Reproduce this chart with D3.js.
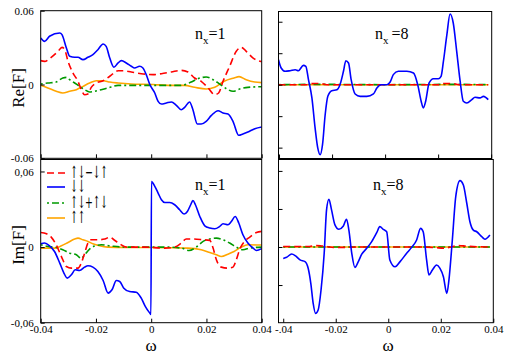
<!DOCTYPE html>
<html><head><meta charset="utf-8">
<script src="https://cdn.jsdelivr.net/npm/d3@7"></script>
<style>
body{margin:0;background:#fff;}
svg{display:block;}
text{font-family:"Liberation Serif","Times New Roman",serif;fill:#000;}
</style></head>
<body>
<svg id="c" width="508" height="355"></svg>
<script>
// ---------- data ----------
const xTicks = [-0.04, -0.02, 0, 0.02, 0.04];
const xTickLabelsBL = ["-0.04", "-0.02", "0", "0.02", "0.04"];
const xTickLabelsBR = ["-.04", "-0.02", "0", "0.02", "0.04"];
const leftYTicks = [-0.06, 0, 0.06];
const reTickLabels = ["-0.06", "0", "0.06"];
const imTickLabels = ["-0,06", "0", "0,06"];
const rightYTicks = [-0.04, -0.02, 0, 0.02, 0.04];

const legendLabels = ["↑↓−↓↑", "↓↓", "↑↓+↑↓", "↑↑"];
const panelLabels = ["n", "x", "=1", "=8"];

// Re[F], n_x = 1
const re1Red = [[-0.0400,0.0194],[-0.0386,0.0188],[-0.0362,0.0221],[-0.0337,0.0270],[-0.0323,0.0302],[-0.0313,0.0283],[-0.0301,0.0188],[-0.0283,0.0093],[-0.0265,0.0026],[-0.0253,-0.0042],[-0.0241,-0.0083],[-0.0229,-0.0077],[-0.0217,-0.0023],[-0.0199,0.0012],[-0.0174,0.0031],[-0.0150,0.0067],[-0.0120,0.0112],[-0.0102,0.0112],[-0.0072,0.0102],[-0.0036,0.0088],[0.0007,0.0080],[0.0037,0.0088],[0.0073,0.0102],[0.0109,0.0115],[0.0133,0.0102],[0.0157,0.0053],[0.0181,0.0026],[0.0206,-0.0028],[0.0230,-0.0083],[0.0244,-0.0069],[0.0260,0.0026],[0.0284,0.0148],[0.0308,0.0270],[0.0326,0.0302],[0.0344,0.0270],[0.0369,0.0215],[0.0400,0.0185]];
const re1Blue = [[-0.0400,0.0378],[-0.0386,0.0351],[-0.0368,0.0392],[-0.0331,0.0419],[-0.0323,0.0405],[-0.0307,0.0297],[-0.0295,0.0229],[-0.0277,0.0221],[-0.0265,0.0221],[-0.0247,0.0202],[-0.0229,0.0221],[-0.0211,0.0243],[-0.0193,0.0283],[-0.0174,0.0329],[-0.0163,0.0310],[-0.0150,0.0215],[-0.0135,0.0140],[-0.0120,0.0175],[-0.0108,0.0194],[-0.0090,0.0175],[-0.0072,0.0148],[-0.0060,0.0134],[-0.0042,0.0148],[-0.0030,0.0134],[-0.0018,0.0080],[-0.0005,0.0000],[0.0013,-0.0069],[0.0025,-0.0137],[0.0037,-0.0159],[0.0055,-0.0150],[0.0073,-0.0142],[0.0091,-0.0169],[0.0109,-0.0205],[0.0121,-0.0186],[0.0139,-0.0142],[0.0151,-0.0205],[0.0167,-0.0321],[0.0181,-0.0321],[0.0199,-0.0299],[0.0218,-0.0251],[0.0242,-0.0213],[0.0260,-0.0232],[0.0278,-0.0240],[0.0296,-0.0299],[0.0317,-0.0413],[0.0332,-0.0402],[0.0350,-0.0386],[0.0375,-0.0359],[0.0400,-0.0345]];
const re1Green = [[-0.0400,0.0004],[-0.0374,0.0012],[-0.0344,0.0020],[-0.0320,0.0053],[-0.0307,0.0058],[-0.0295,0.0039],[-0.0277,0.0012],[-0.0259,-0.0015],[-0.0241,-0.0042],[-0.0223,-0.0061],[-0.0205,-0.0055],[-0.0181,-0.0042],[-0.0157,-0.0028],[-0.0120,-0.0007],[-0.0072,-0.0007],[-0.0024,-0.0007],[0.0061,-0.0007],[0.0109,-0.0007],[0.0145,0.0020],[0.0169,0.0047],[0.0199,0.0061],[0.0224,0.0039],[0.0248,0.0004],[0.0272,-0.0034],[0.0296,-0.0055],[0.0320,-0.0037],[0.0350,-0.0023],[0.0400,-0.0018]];
const re1Orange = [[-0.0400,-0.0007],[-0.0374,-0.0028],[-0.0344,-0.0055],[-0.0320,-0.0069],[-0.0295,-0.0055],[-0.0271,-0.0042],[-0.0247,-0.0015],[-0.0223,0.0012],[-0.0199,0.0031],[-0.0174,0.0031],[-0.0150,0.0020],[-0.0120,0.0012],[-0.0072,0.0004],[0.0007,0.0000],[0.0061,-0.0007],[0.0121,-0.0007],[0.0157,-0.0023],[0.0199,-0.0037],[0.0230,-0.0023],[0.0264,0.0026],[0.0300,0.0053],[0.0318,0.0064],[0.0344,0.0039],[0.0375,0.0020],[0.0400,0.0015]];

// Im[F], n_x = 1
const im1Red = [[-0.0400,0.0116],[-0.0379,0.0106],[-0.0362,0.0079],[-0.0344,0.0018],[-0.0325,-0.0075],[-0.0307,-0.0154],[-0.0289,-0.0167],[-0.0265,-0.0167],[-0.0253,-0.0127],[-0.0241,-0.0048],[-0.0229,0.0032],[-0.0217,0.0058],[-0.0193,0.0058],[-0.0168,0.0064],[-0.0150,0.0079],[-0.0135,0.0058],[-0.0114,0.0026],[-0.0090,0.0000],[-0.0060,0.0000],[-0.0024,0.0000],[0.0049,-0.0008],[0.0085,0.0000],[0.0109,0.0032],[0.0127,0.0064],[0.0151,0.0064],[0.0188,0.0058],[0.0212,0.0053],[0.0224,-0.0008],[0.0236,-0.0101],[0.0254,-0.0159],[0.0278,-0.0167],[0.0296,-0.0159],[0.0308,-0.0101],[0.0320,-0.0021],[0.0338,0.0045],[0.0357,0.0079],[0.0381,0.0116],[0.0400,0.0125]];
const im1Blue = [[-0.0400,0.0026],[-0.0386,0.0032],[-0.0368,0.0010],[-0.0350,-0.0035],[-0.0331,-0.0127],[-0.0316,-0.0206],[-0.0304,-0.0246],[-0.0289,-0.0220],[-0.0275,-0.0180],[-0.0259,-0.0186],[-0.0241,-0.0159],[-0.0229,-0.0148],[-0.0211,-0.0159],[-0.0193,-0.0194],[-0.0174,-0.0265],[-0.0156,-0.0365],[-0.0142,-0.0339],[-0.0126,-0.0265],[-0.0114,-0.0273],[-0.0099,-0.0326],[-0.0078,-0.0353],[-0.0054,-0.0358],[-0.0036,-0.0405],[-0.0021,-0.0472],[-0.0005,-0.0524],[-0.0001,-0.0535],[0.0001,0.0521],[0.0013,0.0481],[0.0025,0.0429],[0.0037,0.0376],[0.0049,0.0354],[0.0067,0.0354],[0.0085,0.0336],[0.0103,0.0296],[0.0119,0.0262],[0.0131,0.0283],[0.0143,0.0336],[0.0151,0.0370],[0.0160,0.0336],[0.0176,0.0243],[0.0194,0.0169],[0.0212,0.0151],[0.0230,0.0145],[0.0248,0.0164],[0.0260,0.0185],[0.0278,0.0177],[0.0290,0.0203],[0.0304,0.0243],[0.0317,0.0191],[0.0332,0.0098],[0.0350,0.0032],[0.0369,-0.0008],[0.0381,-0.0027],[0.0400,-0.0012]];
const im1Green = [[-0.0400,0.0018],[-0.0374,0.0005],[-0.0344,-0.0003],[-0.0320,-0.0021],[-0.0295,-0.0048],[-0.0271,-0.0061],[-0.0253,-0.0090],[-0.0241,-0.0061],[-0.0223,-0.0016],[-0.0205,0.0008],[-0.0181,0.0018],[-0.0144,0.0008],[-0.0096,0.0000],[-0.0048,0.0000],[0.0061,0.0000],[0.0109,-0.0008],[0.0137,-0.0027],[0.0163,0.0000],[0.0188,0.0045],[0.0212,0.0064],[0.0236,0.0071],[0.0260,0.0058],[0.0284,0.0032],[0.0308,0.0000],[0.0332,-0.0021],[0.0357,-0.0008],[0.0400,0.0000]];
const im1Orange = [[-0.0400,-0.0008],[-0.0374,-0.0008],[-0.0350,-0.0008],[-0.0325,0.0010],[-0.0301,0.0037],[-0.0277,0.0064],[-0.0265,0.0071],[-0.0247,0.0058],[-0.0229,0.0045],[-0.0211,0.0026],[-0.0187,0.0010],[-0.0157,0.0000],[-0.0048,-0.0003],[0.0061,-0.0005],[0.0133,-0.0008],[0.0181,-0.0021],[0.0212,-0.0043],[0.0236,-0.0061],[0.0254,-0.0075],[0.0278,-0.0056],[0.0300,-0.0035],[0.0326,0.0000],[0.0350,0.0018],[0.0400,0.0016]];

// Re[F], n_x = 8
const re8Blue = [[-0.0402,0.0159],[-0.0392,0.0106],[-0.0377,0.0085],[-0.0358,0.0089],[-0.0339,0.0095],[-0.0327,0.0089],[-0.0308,0.0123],[-0.0299,0.0117],[-0.0289,0.0032],[-0.0276,-0.0084],[-0.0264,-0.0275],[-0.0254,-0.0402],[-0.0245,-0.0445],[-0.0236,-0.0381],[-0.0226,-0.0191],[-0.0216,-0.0074],[-0.0201,-0.0038],[-0.0182,-0.0032],[-0.0170,0.0000],[-0.0157,0.0085],[-0.0148,0.0152],[-0.0138,0.0138],[-0.0128,0.0032],[-0.0113,-0.0059],[-0.0094,-0.0074],[-0.0069,-0.0074],[-0.0044,-0.0059],[-0.0031,-0.0021],[-0.0015,0.0000],[0.0006,0.0000],[0.0019,0.0017],[0.0031,0.0064],[0.0050,0.0085],[0.0082,0.0085],[0.0107,0.0074],[0.0123,0.0000],[0.0136,-0.0105],[0.0144,-0.0148],[0.0153,-0.0105],[0.0166,0.0011],[0.0182,0.0038],[0.0201,0.0038],[0.0211,0.0053],[0.0220,0.0149],[0.0233,0.0318],[0.0245,0.0449],[0.0257,0.0392],[0.0270,0.0212],[0.0283,0.0022],[0.0295,-0.0105],[0.0308,-0.0116],[0.0327,-0.0095],[0.0339,-0.0080],[0.0358,-0.0084],[0.0371,-0.0074],[0.0389,-0.0095]];
const re8Red = [[-0.0402,0.0000],[-0.0300,0.0000],[-0.0270,0.0008],[-0.0245,0.0008],[-0.0220,0.0000],[0.0200,0.0000],[0.0225,0.0008],[0.0250,0.0008],[0.0280,0.0000],[0.0389,0.0000]];
const re8Green = [[-0.0402,0.0000],[-0.0250,0.0002],[0.0000,0.0000],[0.0250,0.0002],[0.0389,0.0000]];
const re8Orange = [[-0.0402,0.0000],[0.0389,0.0000]];

// Im[F], n_x = 8
const im8Blue = [[-0.0400,-0.0060],[-0.0387,-0.0054],[-0.0368,-0.0037],[-0.0353,-0.0047],[-0.0336,-0.0068],[-0.0317,-0.0077],[-0.0305,-0.0112],[-0.0295,-0.0191],[-0.0286,-0.0296],[-0.0277,-0.0349],[-0.0267,-0.0331],[-0.0256,-0.0226],[-0.0244,-0.0033],[-0.0235,0.0195],[-0.0226,0.0251],[-0.0216,0.0195],[-0.0203,0.0116],[-0.0188,0.0093],[-0.0171,0.0110],[-0.0159,0.0146],[-0.0150,0.0089],[-0.0139,-0.0033],[-0.0127,-0.0107],[-0.0114,-0.0077],[-0.0101,-0.0038],[-0.0082,-0.0007],[-0.0063,0.0028],[-0.0044,0.0075],[-0.0032,0.0107],[-0.0019,0.0093],[-0.0006,0.0080],[0.0006,-0.0068],[0.0026,-0.0104],[0.0045,-0.0077],[0.0070,-0.0033],[0.0089,-0.0002],[0.0108,0.0037],[0.0123,0.0098],[0.0133,0.0080],[0.0146,-0.0068],[0.0155,-0.0147],[0.0168,-0.0121],[0.0184,-0.0095],[0.0197,-0.0112],[0.0210,-0.0156],[0.0223,-0.0244],[0.0231,-0.0174],[0.0244,0.0037],[0.0257,0.0265],[0.0273,0.0349],[0.0286,0.0326],[0.0299,0.0230],[0.0311,0.0133],[0.0324,0.0089],[0.0337,0.0080],[0.0356,0.0054],[0.0368,0.0041],[0.0387,0.0063]];
const im8Red = [[-0.0400,0.0003],[-0.0300,0.0003],[-0.0275,0.0008],[-0.0250,0.0005],[-0.0200,-0.0003],[-0.0100,0.0000],[0.0100,0.0000],[0.0180,-0.0003],[0.0210,-0.0006],[0.0240,0.0000],[0.0265,0.0008],[0.0300,0.0004],[0.0387,0.0000]];
const im8Green = [[-0.0400,0.0000],[0.0387,0.0000]];
const im8Orange = [[-0.0400,0.0000],[0.0387,0.0000]];

// ---------- drawing ----------
const svg = d3.select("#c");
const colors = {red:"#ff0000", blue:"#0000ff", green:"#009a00", orange:"#ffa500"};
const dashes = {red:"7,4", blue:null, green:"2,3,7,3", orange:null};
const serif = '"Liberation Serif","Times New Roman",serif';

const panels = [
  {id:"tl", x:[40.7,261.7], y:[10.7,158.3], xd:[-0.04,0.04], yd:[-0.06,0.06],
   yTicks:leftYTicks, yLabels:reTickLabels, xLabels:null, data:{orange:re1Orange, green:re1Green, red:re1Red, blue:re1Blue}},
  {id:"bl", x:[40.7,261.7], y:[159.5,322.7], xd:[-0.04,0.04], yd:[-0.06,0.0695],
   yTicks:leftYTicks, yLabels:imTickLabels, xLabels:xTickLabelsBL, data:{orange:im1Orange, green:im1Green, red:im1Red, blue:im1Blue}},
  {id:"tr", x:[278.5,491.7], y:[11.5,158.5], xd:[-0.0402,0.0402], yd:[-0.0469,0.0465],
   yTicks:rightYTicks, yLabels:null, xLabels:null, data:{orange:re8Orange, green:re8Green, red:re8Red, blue:re8Blue}},
  {id:"br", x:[278.5,493.3], y:[159.5,322.7], xd:[-0.0418,0.0400], yd:[-0.0398,0.0460],
   yTicks:rightYTicks, yLabels:null, xLabels:xTickLabelsBR, data:{orange:im8Orange, green:im8Green, red:im8Red, blue:im8Blue}}
];

const defs = svg.append("defs");
panels.forEach(p => {
  const xs = d3.scaleLinear().domain(p.xd).range(p.x);
  const ys = d3.scaleLinear().domain(p.yd).range([p.y[1], p.y[0]]);
  defs.append("clipPath").attr("id","clip-"+p.id).append("rect")
    .attr("x",p.x[0]).attr("y",p.y[0]).attr("width",p.x[1]-p.x[0]).attr("height",p.y[1]-p.y[0]);
  const g = svg.append("g");
  const line = d3.line().x(d=>xs(d[0])).y(d=>ys(d[1])).curve(d3.curveMonotoneX);
  const cg = g.append("g").attr("clip-path","url(#clip-"+p.id+")");
  ["orange","green","red","blue"].forEach(k => {
    cg.append("path").datum(p.data[k]).attr("d",line)
      .attr("fill","none").attr("stroke",colors[k]).attr("stroke-width",1.6)
      .attr("stroke-dasharray",dashes[k]);
  });
  // axes
  const xa = d3.axisBottom(xs).tickValues(xTicks.filter(v=>v>=p.xd[0]-1e-9 && v<=p.xd[1]+1e-9)).tickSize(-4).tickPadding(4)
    .tickFormat((d)=> p.xLabels ? p.xLabels[xTicks.indexOf(d)] : "");
  const xg = g.append("g").attr("transform",`translate(0,${p.y[1]})`).call(xa);
  const ya = d3.axisLeft(ys).tickValues(p.yTicks.filter(v=>v>=p.yd[0]-1e-9 && v<=p.yd[1]+1e-9)).tickSize(-4).tickPadding(7)
    .tickFormat((d)=> p.yLabels ? p.yLabels[p.yTicks.indexOf(d)] : "");
  const yg = g.append("g").attr("transform",`translate(${p.x[0]},0)`).call(ya);
  [xg,yg].forEach(a=>{
    a.attr("font-family",serif).attr("font-size",11);
    a.select(".domain").remove();
    a.selectAll("line").attr("stroke","#000").attr("stroke-width",1);
    a.selectAll("text").style("font-family",serif).style("font-size","11px").attr("fill","#000");
  });
  xg.selectAll("text").attr("dy","0.6em");
  if (!p.xLabels) xg.selectAll("text").remove();
  if (!p.yLabels) yg.selectAll("text").remove();
  g.append("rect").attr("x",p.x[0]).attr("y",p.y[0]).attr("width",p.x[1]-p.x[0]).attr("height",p.y[1]-p.y[0])
    .attr("fill","none").attr("stroke","#000").attr("stroke-width",1);
});

// axis titles
svg.append("text").attr("transform","translate(24,88) rotate(-90)").attr("text-anchor","middle")
  .style("font-size","17px").text("Re[F]");
svg.append("text").attr("transform","translate(24,245) rotate(-90)").attr("text-anchor","middle")
  .style("font-size","17px").text("Im[F]");
svg.append("text").attr("x",151).attr("y",351).attr("text-anchor","middle").style("font-size","17px").text("ω");
svg.append("text").attr("x",388).attr("y",351).attr("text-anchor","middle").style("font-size","17px").text("ω");

// panel labels
function nLabel(x, y, val, gap){
  const t = svg.append("text").attr("x",x).attr("y",y).style("font-size","16px");
  t.append("tspan").text(panelLabels[0]);
  t.append("tspan").attr("dy",5).style("font-size","11px").text(panelLabels[1]);
  t.append("tspan").attr("dy",-5).attr("dx",gap).text(val);
}
nLabel(195, 39, panelLabels[2], 0);
nLabel(195, 190, panelLabels[2], 0);
nLabel(375, 39, panelLabels[3], 3);
nLabel(373, 190, panelLabels[3], 0);

// legend
const legKeys = ["red","blue","green","orange"];
const legY = [173, 187, 203, 218];
const sx = 0.72, sy = 1.3;
legKeys.forEach((k,i)=>{
  svg.append("line").attr("x1",47).attr("x2",65).attr("y1",legY[i]).attr("y2",legY[i])
    .attr("stroke",colors[k]).attr("stroke-width",1.6).attr("stroke-dasharray",dashes[k]);
});
const legText = svg.append("text").attr("transform",`translate(70,0) scale(${sx},${sy})`)
  .style("font-family",'"DejaVu Serif",serif').style("font-size","13px").style("letter-spacing","-0.5px");
legendLabels.forEach((s,i)=>{
  legText.append("tspan").attr("x",0).attr("y",(legY[i]+5)/sy).text(s);
});
</script>
</body></html>
